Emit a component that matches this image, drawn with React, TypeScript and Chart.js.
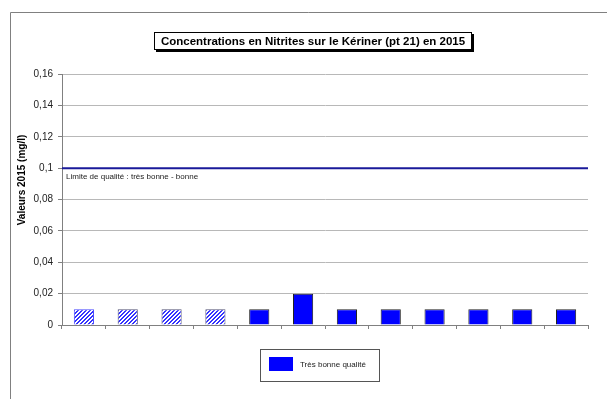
import React, { useEffect, useRef } from "react";
import { Chart, registerables } from "chart.js";

Chart.register(...registerables);

const categories = ["Jan", "Fév", "Mar", "Avr", "Mai", "Juin", "Juil", "Aoû", "Sep", "Oct", "Nov", "Déc"];
const values = [0.01, 0.01, 0.01, 0.01, 0.01, 0.02, 0.01, 0.01, 0.01, 0.01, 0.01, 0.01];
const hatched = [true, true, true, true, false, false, false, false, false, false, false, false];
const yTicks = [0, 0.02, 0.04, 0.06, 0.08, 0.1, 0.12, 0.14, 0.16];
const limitValue = 0.1;
const limitLabel = "Limite de qualité : très bonne - bonne";
const titleText = "Concentrations en Nitrites sur le Kériner (pt 21) en 2015";
const yTitle = "Valeurs 2015 (mg/l)";
const legendLabel = "Très bonne qualité";

const FONT = "Arial, 'Liberation Sans', sans-serif";

function makePattern(): CanvasPattern | string {
  const c = document.createElement("canvas");
  c.width = 4;
  c.height = 4;
  const g = c.getContext("2d");
  if (!g) return "#6666ff";
  g.fillStyle = "#ffffff";
  g.fillRect(0, 0, 4, 4);
  g.fillStyle = "#3333ff";
  for (let i = 0; i < 4; i++) {
    const x = (3 - i + 4) % 4;
    g.fillRect(x, i, 2, 1);
    if (x + 2 > 4) g.fillRect(0, i, x + 2 - 4, 1);
  }
  const p = g.createPattern(c, "repeat");
  return p || "#6666ff";
}

const decorPlugin = {
  id: "decor",
  afterDatasetsDraw(chart: any) {
    const ctx = chart.ctx as CanvasRenderingContext2D;
    const { chartArea } = chart;
    const y = chart.scales.y.getPixelForValue(limitValue);
    ctx.save();
    ctx.strokeStyle = "#1a1a9a";
    ctx.lineWidth = 2;
    ctx.beginPath();
    ctx.moveTo(chartArea.left, y);
    ctx.lineTo(chartArea.right, y);
    ctx.stroke();
    ctx.fillStyle = "#222";
    ctx.font = `8px ${FONT}`;
    ctx.textBaseline = "middle";
    ctx.textAlign = "left";
    ctx.fillText(limitLabel, chartArea.left + 4, y + 9);
    ctx.restore();
  },
  afterDraw(chart: any) {
    const ctx = chart.ctx as CanvasRenderingContext2D;
    ctx.save();
    ctx.strokeStyle = "#808080";
    ctx.lineWidth = 1;
    ctx.beginPath();
    ctx.moveTo(10.5, 399);
    ctx.lineTo(10.5, 12.5);
    ctx.lineTo(607, 12.5);
    ctx.stroke();

    const tx = 154, ty = 32, tw = 318, th = 18;
    ctx.fillStyle = "#000";
    ctx.fillRect(tx + 2, ty + 2, tw, th);
    ctx.fillStyle = "#fff";
    ctx.fillRect(tx, ty, tw, th);
    ctx.strokeStyle = "#000";
    ctx.strokeRect(tx + 0.5, ty + 0.5, tw - 1, th - 1);
    ctx.fillStyle = "#000";
    ctx.font = `bold 11.5px ${FONT}`;
    ctx.textAlign = "center";
    ctx.textBaseline = "middle";
    ctx.fillText(titleText, tx + tw / 2, ty + th / 2 + 1);

    ctx.save();
    ctx.translate(22, 180);
    ctx.rotate(-Math.PI / 2);
    ctx.font = `bold 10px ${FONT}`;
    ctx.fillText(yTitle, 0, 0);
    ctx.restore();

    ctx.strokeStyle = "#555";
    ctx.strokeRect(260.5, 349.5, 119, 32);
    ctx.fillStyle = "#0000ff";
    ctx.fillRect(269, 357, 24, 14);
    ctx.fillStyle = "#222";
    ctx.font = `8px ${FONT}`;
    ctx.textAlign = "left";
    ctx.fillText(legendLabel, 300, 364.5);
    ctx.restore();
  },
};

export default function App() {
  const ref = useRef<HTMLCanvasElement>(null);
  useEffect(() => {
    if (!ref.current) return;
    const pattern = makePattern();
    const chart = new Chart(ref.current, {
      type: "bar",
      data: {
        labels: categories,
        datasets: [
          {
            data: values,
            backgroundColor: hatched.map((h) => (h ? pattern : "#0000ff")),
            borderColor: hatched.map((h, i) => (h ? (i === 0 ? "#4d4dff" : "#555577") : "#222222")),
            borderWidth: 1,
            barPercentage: 0.46,
            categoryPercentage: 1,
          },
        ],
      },
      options: {
        responsive: false,
        animation: false,
        events: [],
        layout: { padding: { left: 0, top: 74, right: 19, bottom: 0 } },
        plugins: { legend: { display: false }, title: { display: false }, tooltip: { enabled: false } },
        scales: {
          x: {
            offset: true,
            grid: { display: true, drawOnChartArea: false, offset: true, tickLength: 4, color: "#808080" },
            border: { color: "#808080", width: 1 },
            ticks: { display: true, callback: () => "", font: { size: 1 } },
            afterFit: (s: any) => {
              s.height = 74;
            },
          },
          y: {
            min: 0,
            max: 0.16,
            afterBuildTicks: (s: any) => {
              s.ticks = yTicks.map((v) => ({ value: v }));
            },
            grid: { color: "#b8b8b8", tickLength: 4, tickColor: "#808080", drawTicks: true },
            border: { color: "#808080", width: 1 },
            ticks: {
              color: "#222",
              padding: 5,
              font: { family: FONT, size: 10 },
              callback: (v: any) => (Number(v) === 0 ? "0" : String(Number(v)).replace(".", ",")),
            },
            afterFit: (s: any) => {
              s.width = 62;
            },
          },
        },
      },
      plugins: [decorPlugin],
    });
    return () => chart.destroy();
  }, []);
  return (
    <div style={{ position: "fixed", left: 0, top: 0, width: 607, height: 399, background: "#fff" }}>
      <canvas ref={ref} width={607} height={399} style={{ display: "block" }} />
    </div>
  );
}
